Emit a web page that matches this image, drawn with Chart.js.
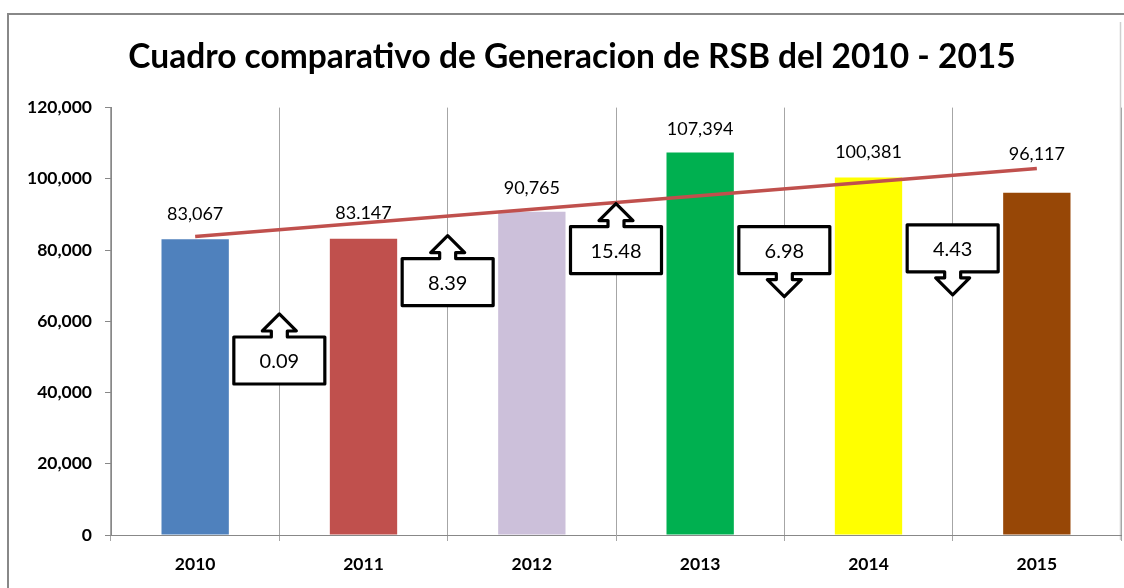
<!DOCTYPE html>
<html>
<head>
<meta charset="utf-8">
<script src="https://cdn.jsdelivr.net/npm/chart.js@4"></script>
<style>
  html, body { margin: 0; padding: 0; background: #fff; }
  #wrap { width: 1124px; height: 588px; position: relative; }
</style>
</head>
<body>
<div id="wrap"><canvas id="chart-rsb"></canvas></div>
<script>
// ---- data ----
const years = ["2010", "2011", "2012", "2013", "2014", "2015"];
const tonnes = [83067, 83147, 90765, 107394, 100381, 96117];
const valueLabels = ["83,067", "83.147", "90,765", "107,394", "100,381", "96,117"];
const barColors = ["#4F81BD", "#C0504D", "#CCC0DA", "#00B050", "#FFFF00", "#974706"];
// tendencia lineal (solo extremos)
const trend = [83800, null, null, null, null, 102900];
// variacion % entre años
const changes = ["0.09", "8.39", "15.48", "6.98", "4.43"];
const changeDir = ["up", "up", "up", "down", "down"];
const changeLevel = [49000, 71000, 80000, 80000, 80500]; // nivel (eje y) del recuadro
const yTicks = [0, 20000, 40000, 60000, 80000, 100000, 120000];
const titleText = "Cuadro comparativo de Generacion de RSB del 2010 - 2015";

const FONT = "Lato, 'Open Sans', sans-serif";

// marco exterior + titulo
const framePlugin = {
  id: "frame",
  beforeDraw(chart) {
    const c = chart.ctx;
    c.save();
    c.strokeStyle = "#888";
    c.lineWidth = 2;
    c.beginPath();
    c.moveTo(8, 600);
    c.lineTo(8, 14);
    c.lineTo(1124, 14);
    c.stroke();
    c.strokeStyle = "#cfcfcf";
    c.lineWidth = 1.5;
    c.beginPath();
    c.moveTo(1120.5, 22);
    c.lineTo(1120.5, 540);
    c.stroke();

    c.fillStyle = "#000";
    c.font = "bold 33.5px " + FONT;
    c.textAlign = "center";
    c.textBaseline = "middle";
    c.fillText(titleText, 572, 57);
    c.restore();
  },
};

// etiquetas de valor encima de las barras
const labelLift = [25, 26, 24, 23, 25, 38];
const valueLabelPlugin = {
  id: "valueLabels",
  afterDatasetsDraw(chart) {
    const meta = chart.getDatasetMeta(1); // barras
    const c = chart.ctx;
    c.save();
    c.font = "18px " + FONT;
    c.fillStyle = "#000";
    c.textAlign = "center";
    c.textBaseline = "middle";
    meta.data.forEach((bar, i) => {
      c.fillText(valueLabels[i], bar.x, bar.y - labelLift[i]);
    });
    c.restore();
  },
};

// recuadros con flecha (variacion entre años)
const calloutPlugin = {
  id: "callouts",
  afterDraw(chart) {
    const xs = chart.scales.x;
    const ys = chart.scales.y;
    const c = chart.ctx;
    const w = 91, h = 47, stemW = 8, headW = 17, stemH = 6, headH = 17;
    c.save();
    changes.forEach((txt, i) => {
      const cx = (xs.getPixelForValue(i) + xs.getPixelForValue(i + 1)) / 2;
      const cy = ys.getPixelForValue(changeLevel[i]);
      const l = cx - w / 2, r = cx + w / 2, t = cy - h / 2, b = cy + h / 2;
      c.beginPath();
      if (changeDir[i] === "up") {
        c.moveTo(l, b);
        c.lineTo(l, t);
        c.lineTo(cx - stemW, t);
        c.lineTo(cx - stemW, t - stemH);
        c.lineTo(cx - headW, t - stemH);
        c.lineTo(cx, t - stemH - headH);
        c.lineTo(cx + headW, t - stemH);
        c.lineTo(cx + stemW, t - stemH);
        c.lineTo(cx + stemW, t);
        c.lineTo(r, t);
        c.lineTo(r, b);
      } else {
        c.moveTo(l, t);
        c.lineTo(r, t);
        c.lineTo(r, b);
        c.lineTo(cx + stemW, b);
        c.lineTo(cx + stemW, b + stemH);
        c.lineTo(cx + headW, b + stemH);
        c.lineTo(cx, b + stemH + headH);
        c.lineTo(cx - headW, b + stemH);
        c.lineTo(cx - stemW, b + stemH);
        c.lineTo(cx - stemW, b);
        c.lineTo(l, b);
      }
      c.closePath();
      c.fillStyle = "#fff";
      c.fill();
      c.lineWidth = 3.2;
      c.lineJoin = "round";
      c.strokeStyle = "#000";
      c.stroke();
      c.fillStyle = "#000";
      c.font = "20px " + FONT;
      c.textAlign = "center";
      c.textBaseline = "middle";
      c.fillText(txt, cx, cy + 1);
    });
    c.restore();
  },
};

const ctx = document.getElementById("chart-rsb").getContext("2d");

new Chart(ctx, {
  data: {
    labels: years,
    datasets: [
      {
        type: "line",
        data: trend,
        borderColor: "#C0504D",
        borderWidth: 3.5,
        pointRadius: 0,
        spanGaps: true,
        order: 0,
      },
      {
        type: "bar",
        data: tonnes,
        backgroundColor: barColors,
        barPercentage: 0.4,
        categoryPercentage: 1,
        order: 1,
      },
    ],
  },
  options: {
    responsive: true,
    maintainAspectRatio: false,
    animation: false,
    events: [],
    layout: { padding: { top: 107.6, right: 3, bottom: 0, left: 0 } },
    plugins: {
      legend: { display: false },
      tooltip: { enabled: false },
      title: { display: false },
    },
    scales: {
      x: {
        type: "category",
        offset: true,
        grid: {
          offset: true,
          color: "#a6a6a6",
          drawOnChartArea: true,
          drawTicks: true,
          tickLength: 6,
        },
        border: { display: true, color: "#888", width: 1 },
        ticks: {
          color: "#000",
          padding: 13,
          font: { family: FONT, size: 17.5, weight: "bold" },
        },
        afterFit: (scale) => { scale.height = 53; },
      },
      y: {
        type: "linear",
        min: 0,
        max: 120000,
        afterBuildTicks: (scale) => { scale.ticks = yTicks.map((v) => ({ value: v })); },
        grid: {
          drawOnChartArea: false,
          drawTicks: true,
          tickLength: 6,
          color: "#888",
        },
        border: { display: true, color: "#888", width: 1 },
        ticks: {
          color: "#000",
          padding: 13,
          font: { family: FONT, size: 17.5, weight: "bold" },
          callback: (v) => v.toLocaleString("en-US"),
        },
        afterFit: (scale) => { scale.width = 111; },
      },
    },
  },
  plugins: [framePlugin, valueLabelPlugin, calloutPlugin],
});
</script>
</body>
</html>
